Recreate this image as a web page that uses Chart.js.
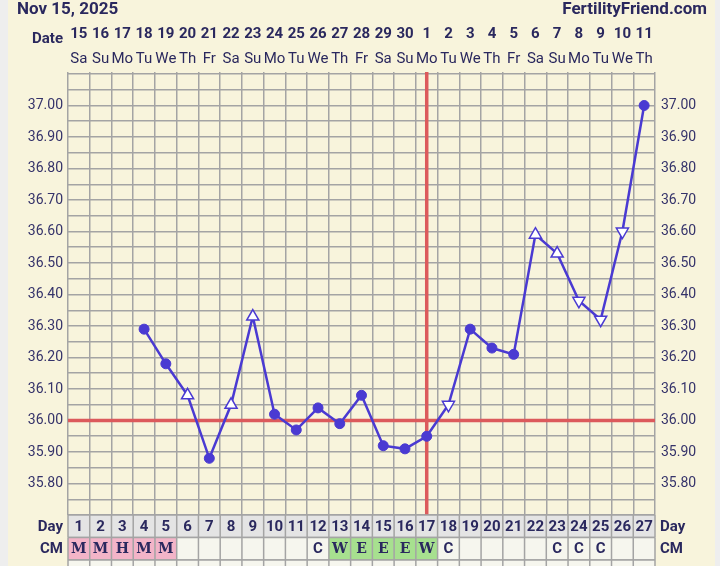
<!DOCTYPE html>
<html><head><meta charset="utf-8">
<script src="https://cdn.jsdelivr.net/npm/chart.js@4.4.1/dist/chart.umd.min.js"></script>
<style>html,body{margin:0;padding:0;background:#eeeeee;} canvas{display:block;}</style>
</head><body>
<canvas id="c" width="720" height="566"></canvas>
<script>
// ---- data ----
const chartTitle = 'Nov 15, 2025';
const siteName = 'FertilityFriend.com';
const cycleDays = [1,2,3,4,5,6,7,8,9,10,11,12,13,14,15,16,17,18,19,20,21,22,23,24,25,26,27];
const dateLabels = ['15','16','17','18','19','20','21','22','23','24','25','26','27','28','29','30','1','2','3','4','5','6','7','8','9','10','11'];
const weekdayLabels = ['Sa','Su','Mo','Tu','We','Th','Fr','Sa','Su','Mo','Tu','We','Th','Fr','Sa','Su','Mo','Tu','We','Th','Fr','Sa','Su','Mo','Tu','We','Th'];
const temps = [null,null,null,36.29,36.18,36.08,35.88,36.05,36.33,36.02,35.97,36.04,35.99,36.08,35.92,35.91,35.95,36.05,36.29,36.23,36.21,36.59,36.53,36.38,36.32,36.60,37.00];
// c = filled circle, u = open triangle up, d = open triangle down
const markers = ['','','','c','c','u','c','u','u','c','c','c','c','c','c','c','c','d','c','c','c','u','u','d','d','d','c'];
const cmLabels = ['M','M','H','M','M','','','','','','','C','W','E','E','E','W','C','','','','','C','C','C','',''];
const coverline = 36.00;
const ovulationDay = 17;
const yMin = 35.70, yMax = 37.10, yStep = 0.05;
const yLabelMin = 35.80, yLabelMax = 37.00;

// ---- styles ----
const NAVY = '#2a285e';
const BLUE = '#4a3ad2';
const RED = '#dc5a5c';
const GRID = '#a4a4a4';
const CREAM = '#f8f4dc';

function yTickLabel(v){
  const c = Math.round(v*100);
  if (c % 10 === 0 && c >= Math.round(yLabelMin*100) && c <= Math.round(yLabelMax*100)) return (c/100).toFixed(2);
  return '';
}

const bgPlugin = {
  id:'bg',
  beforeDraw(chart){
    const ctx = chart.ctx; ctx.save();
    ctx.fillStyle = '#eeeeee'; ctx.fillRect(0,0,chart.width,chart.height);
    ctx.fillStyle = CREAM; ctx.fillRect(8,0,707,chart.height);
    ctx.restore();
  }
};

const refLines = {
  id:'refLines',
  beforeDatasetsDraw(chart){
    const {ctx, chartArea:a, scales:{x,y}} = chart;
    ctx.save();
    ctx.strokeStyle = RED; ctx.lineWidth = 3.5;
    const yy = y.getPixelForValue(coverline);
    ctx.beginPath(); ctx.moveTo(a.left, yy); ctx.lineTo(a.right, yy); ctx.stroke();
    const xx = x.getPixelForValue(ovulationDay-1);
    ctx.beginPath(); ctx.moveTo(xx, a.top-2); ctx.lineTo(xx, a.bottom); ctx.stroke();
    ctx.restore();
  }
};

const textPlugin = {
  id:'texts',
  afterDraw(chart){
    const ctx = chart.ctx; ctx.save();
    ctx.fillStyle = NAVY;
    ctx.textBaseline = 'alphabetic';
    ctx.font = 'bold 17px Roboto';
    ctx.textAlign = 'left'; ctx.fillText(chartTitle, 17, 14);
    ctx.textAlign = 'right'; ctx.fillText(siteName, 707, 14);
    ctx.font = 'bold 15px Roboto';
    ctx.textBaseline = 'middle';
    ctx.textAlign = 'right'; ctx.fillText('Date', 63, 39);
    ctx.restore();
  }
};

const tablePlugin = {
  id:'table',
  afterDraw(chart){
    const {ctx, chartArea:a, scales:{x}} = chart;
    const colW = x.getPixelForValue(1) - x.getPixelForValue(0);
    const rows = [
      {label:'Day', cells: cycleDays.map(String), bg: () => '#e4e4e4', font: 'bold 15px Roboto'},
      {label:'CM', cells: cmLabels, bg: (t) => (t==='M'||t==='H') ? '#f3b4c8' : (t==='W'||t==='E') ? '#a7e08f' : '#f6f6ee', font: null},
      {label:'', cells: cycleDays.map(() => ''), bg: () => '#f6f6ee', font: null}
    ];
    const rowH = 22.5;
    ctx.save();
    let top = a.bottom;
    rows.forEach(r => {
      cycleDays.forEach((d,i) => {
        const cx = x.getPixelForValue(i);
        ctx.fillStyle = r.bg(r.cells[i]);
        ctx.fillRect(cx-colW/2, top, colW, rowH);
      });
      ctx.strokeStyle = GRID; ctx.lineWidth = 1.5;
      ctx.beginPath();
      ctx.moveTo(a.left, top); ctx.lineTo(a.right, top);
      ctx.moveTo(a.left, top+rowH); ctx.lineTo(a.right, top+rowH);
      cycleDays.forEach((d,i) => {
        const lx = x.getPixelForValue(i) - colW/2;
        ctx.moveTo(lx, top); ctx.lineTo(lx, top+rowH);
      });
      ctx.moveTo(a.right, top); ctx.lineTo(a.right, top+rowH);
      ctx.stroke();
      ctx.fillStyle = NAVY;
      ctx.textBaseline = 'middle'; ctx.textAlign = 'center';
      const cy = top + rowH/2 + 0.5;
      cycleDays.forEach((d,i) => {
        const t = r.cells[i];
        if (!t) return;
        ctx.font = r.font ? r.font : (t === 'C' ? 'bold 15px Roboto' : 'bold 14px "DejaVu Serif"');
        ctx.fillText(t, x.getPixelForValue(i), cy);
      });
      if (r.label){
        ctx.font = 'bold 15px Roboto';
        ctx.textAlign = 'right'; ctx.fillText(r.label, a.left-5, cy);
        ctx.textAlign = 'left'; ctx.fillText(r.label, a.right+5, cy);
      }
      top += rowH;
    });
    ctx.restore();
  }
};

const pointStyles = markers.map(m => (m === 'u' || m === 'd') ? 'triangle' : 'circle');
const pointRot = markers.map(m => m === 'd' ? 180 : 0);
const pointBg = markers.map(m => m === 'c' ? BLUE : '#ffffff');
const pointRad = markers.map(m => m === 'c' ? 5 : 7);
const pointBw = markers.map(m => m === 'c' ? 1 : 1.5);

new Chart(document.getElementById('c'), {
  type: 'line',
  data: {
    labels: dateLabels,
    datasets: [{
      data: temps,
      borderColor: BLUE,
      borderWidth: 2.5,
      pointStyle: pointStyles,
      rotation: pointRot,
      pointBackgroundColor: pointBg,
      pointBorderColor: BLUE,
      pointBorderWidth: pointBw,
      pointRadius: pointRad,
      tension: 0,
      spanGaps: false,
      clip: false
    }]
  },
  options: {
    responsive: false,
    animation: false,
    devicePixelRatio: 1,
    layout: { padding: { top: 22, bottom: 51, left: 0, right: 0 } },
    plugins: { legend: { display: false }, tooltip: { enabled: false }, title: { display: false } },
    scales: {
      x: {
        type: 'category', position: 'top', weight: 2, offset: true,
        labels: dateLabels,
        grid: { display: false, drawTicks: false },
        border: { display: false },
        ticks: { autoSkip: false, maxRotation: 0, padding: 1, color: NAVY, font: { family: 'Roboto', size: 15, weight: 'bold' } },
        afterFit(s){ s.height = 22; }
      },
      x2: {
        type: 'category', position: 'top', weight: 1, offset: true,
        labels: weekdayLabels,
        grid: { display: true, offset: true, color: GRID, lineWidth: 1.5, drawTicks: true, tickLength: 2 },
        border: { display: false },
        ticks: { autoSkip: false, maxRotation: 0, padding: 4, color: NAVY, font: { family: 'Roboto', size: 15 } },
        afterFit(s){ s.height = 30; }
      },
      y: {
        type: 'linear', position: 'left', min: yMin, max: yMax,
        grid: { color: GRID, lineWidth: 1.5, drawTicks: false },
        border: { display: false },
        ticks: { stepSize: yStep, autoSkip: false, padding: 5, color: '#35336a', font: { family: 'Roboto', size: 14 }, callback: yTickLabel },
        afterFit(s){ s.width = 68; }
      },
      y2: {
        type: 'linear', position: 'right', min: yMin, max: yMax,
        grid: { display: false, drawTicks: false },
        border: { display: false },
        ticks: { stepSize: yStep, autoSkip: false, padding: 6, color: '#35336a', font: { family: 'Roboto', size: 14 }, callback: yTickLabel },
        afterFit(s){ s.width = 65; }
      }
    }
  },
  plugins: [bgPlugin, refLines, textPlugin, tablePlugin]
});
</script>
</body></html>
